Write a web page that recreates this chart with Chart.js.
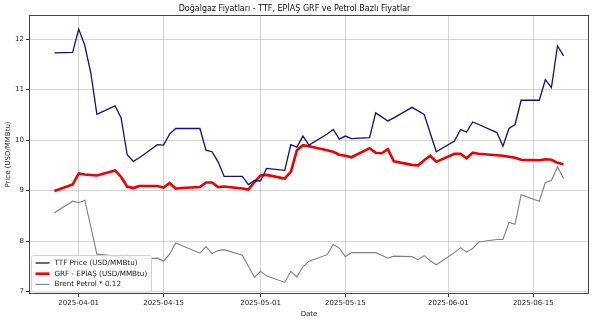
<!DOCTYPE html>
<html>
<head>
<meta charset="utf-8">
<script src="https://cdn.jsdelivr.net/npm/chart.js@4.4.1/dist/chart.umd.min.js"></script>
<style>
  html, body { margin: 0; padding: 0; background: #fff; }
  #wrap { width: 594px; height: 322px; }
</style>
</head>
<body>
<div id="wrap"><canvas id="gasChart" width="594" height="322"></canvas></div>
<script>
// business days shown in the chart
const dates = [
  "2025-03-28", "2025-03-31", "2025-04-01", "2025-04-02", "2025-04-03", "2025-04-04",
  "2025-04-07", "2025-04-08", "2025-04-09", "2025-04-10", "2025-04-11",
  "2025-04-14", "2025-04-15", "2025-04-16", "2025-04-17", "2025-04-18",
  "2025-04-21", "2025-04-22", "2025-04-23", "2025-04-24", "2025-04-25",
  "2025-04-28", "2025-04-29", "2025-04-30", "2025-05-01", "2025-05-02",
  "2025-05-05", "2025-05-06", "2025-05-07", "2025-05-08", "2025-05-09",
  "2025-05-12", "2025-05-13", "2025-05-14", "2025-05-15", "2025-05-16",
  "2025-05-19", "2025-05-20", "2025-05-21", "2025-05-22", "2025-05-23",
  "2025-05-26", "2025-05-27", "2025-05-28", "2025-05-29", "2025-05-30",
  "2025-06-02", "2025-06-03", "2025-06-04", "2025-06-05", "2025-06-06",
  "2025-06-09", "2025-06-10", "2025-06-11", "2025-06-12", "2025-06-13",
  "2025-06-16", "2025-06-17", "2025-06-18", "2025-06-19", "2025-06-20"
];

const ttfPrice = [
  11.73, 11.74, 12.20, 11.88, 11.33, 10.51,
  10.68, 10.44, 9.71, 9.58, 9.65,
  9.91, 9.90, 10.12, 10.23, 10.23,
  10.23, 9.80, 9.77, 9.57, 9.28,
  9.28, 9.12, 9.20, 9.19, 9.44,
  9.40, 9.91, 9.86, 10.08, 9.90,
  10.12, 10.21, 10.02, 10.08, 10.03,
  10.05, 10.54, 10.46, 10.38, 10.44,
  10.65, 10.58, 10.51, 10.14, 9.77,
  9.98, 10.21, 10.16, 10.36, 10.31,
  10.15, 9.88, 10.23, 10.31, 10.79,
  10.79, 11.20, 11.04, 11.87, 11.67
];

const grfPrice = [
  8.99, 9.12, 9.34, 9.32, 9.31, 9.30,
  9.40, 9.27, 9.08, 9.05, 9.09,
  9.09, 9.06, 9.15, 9.04, 9.05,
  9.07, 9.16, 9.16, 9.07, 9.08,
  9.04, 9.02, 9.17, 9.30, 9.31,
  9.24, 9.37, 9.80, 9.90, 9.88,
  9.80, 9.77, 9.71, 9.69, 9.66,
  9.84, 9.75, 9.74, 9.82, 9.58,
  9.51, 9.50, 9.60, 9.69, 9.57,
  9.73, 9.73, 9.64, 9.75, 9.73,
  9.70, 9.69, 9.67, 9.65, 9.61,
  9.60, 9.62, 9.61, 9.55, 9.52
];

const brentScaled = [
  8.56, 8.79, 8.76, 8.81, 8.28, 7.74,
  7.70, 7.66, 7.72, 7.64, 7.64,
  7.66, 7.60, 7.74, 7.96, 7.91,
  7.76, 7.89, 7.75, 7.81, 7.83,
  7.72, 7.50, 7.28, 7.40, 7.31,
  7.18, 7.40, 7.29, 7.49, 7.60,
  7.73, 7.93, 7.86, 7.69, 7.77,
  7.77, 7.77, 7.72, 7.66, 7.70,
  7.69, 7.63, 7.71, 7.61, 7.53,
  7.77, 7.87, 7.78, 7.85, 7.98,
  8.03, 8.03, 8.37, 8.33, 8.92,
  8.79, 9.16, 9.20, 9.47, 9.24
];

const xTickDates = ["2025-04-01", "2025-04-15", "2025-05-01", "2025-05-15", "2025-06-01", "2025-06-15"];
const yTicks = [7, 8, 9, 10, 11, 12];

// days since 2025-04-01, used as x positions on a linear axis
const origin = Date.parse("2025-04-01");
function dayNum(s) {
  return Math.round((Date.parse(s) - origin) / 86400000);
}
function toPoints(values) {
  return values.map((v, i) => ({ x: dayNum(dates[i]), y: v }));
}

const font = "'DejaVu Sans', sans-serif";

// matplotlib style frame and legend inside the plot
const frameAndLegend = {
  id: "frameAndLegend",
  afterDraw(chart) {
    const ctx = chart.ctx;
    const ca = chart.chartArea;
    ctx.save();
    ctx.strokeStyle = "#444";
    ctx.lineWidth = 1;
    ctx.strokeRect(ca.left + 0.5, ca.top + 0.5, ca.right - ca.left - 1, ca.bottom - ca.top - 1);

    const bx = ca.left + 2.5, by = ca.bottom - 38.5, bw = 120, bh = 36.5;
    ctx.beginPath();
    ctx.roundRect(bx, by, bw, bh, 2);
    ctx.fillStyle = "rgba(255,255,255,0.8)";
    ctx.fill();
    ctx.strokeStyle = "#d0d0d0";
    ctx.stroke();

    ctx.font = "7.2px " + font;
    ctx.textBaseline = "middle";
    chart.data.datasets.forEach((ds, i) => {
      const y = by + 7.5 + i * 10.7;
      ctx.beginPath();
      ctx.moveTo(bx + 4, y);
      ctx.lineTo(bx + 18, y);
      ctx.strokeStyle = ds.borderColor;
      ctx.lineWidth = ds.borderWidth;
      ctx.stroke();
      ctx.fillStyle = "#222";
      ctx.fillText(ds.label, bx + 23, y);
    });
    ctx.restore();
  }
};

new Chart(document.getElementById("gasChart"), {
  type: "line",
  data: {
    datasets: [
      { label: "TTF Price (USD/MMBtu)", data: toPoints(ttfPrice), borderColor: "#10107e", borderWidth: 1.3 },
      { label: "GRF - EPİAŞ (USD/MMBtu)", data: toPoints(grfPrice), borderColor: "#ee0000", borderWidth: 2.6 },
      { label: "Brent Petrol * 0.12", data: toPoints(brentScaled), borderColor: "#808080", borderWidth: 1.1 }
    ]
  },
  options: {
    responsive: false,
    animation: false,
    layout: { padding: { left: 0, right: 5, top: 0, bottom: 0 } },
    elements: { point: { radius: 0 }, line: { tension: 0 } },
    plugins: {
      legend: { display: false },
      tooltip: { enabled: false },
      title: {
        display: true,
        text: "Doğalgaz Fiyatları - TTF, EPİAŞ GRF ve Petrol Bazlı Fiyatlar",
        color: "#111",
        font: { family: font, size: 8, weight: "normal", lineHeight: 1.2 },
        padding: { top: 4.5, bottom: 0.9 }
      }
    },
    scales: {
      x: {
        type: "linear",
        min: -8.2,
        max: 84.2,
        afterBuildTicks(scale) {
          scale.ticks = xTickDates.map(d => ({ value: dayNum(d) }));
        },
        afterFit(scale) { scale.height = 28; },
        ticks: {
          color: "#222",
          font: { family: font, size: 7 },
          padding: 2,
          maxRotation: 0,
          callback(value) {
            const hit = xTickDates.find(d => dayNum(d) === value);
            return hit || "";
          }
        },
        grid: { color: "rgba(176,176,176,0.55)", tickColor: "#333", tickLength: 3 },
        border: { display: false },
        title: {
          display: true,
          text: "Date",
          color: "#222",
          font: { family: font, size: 7 },
          padding: { top: 0, bottom: 3.8 }
        }
      },
      y: {
        min: 6.95,
        max: 12.48,
        afterBuildTicks(scale) {
          scale.ticks = yTicks.map(v => ({ value: v }));
        },
        afterFit(scale) { scale.width = 29; },
        ticks: {
          color: "#222",
          font: { family: font, size: 7 },
          padding: 2
        },
        grid: { color: "rgba(176,176,176,0.55)", tickColor: "#333", tickLength: 3 },
        border: { display: false },
        title: {
          display: true,
          text: "Price (USD/MMBtu)",
          color: "#222",
          font: { family: font, size: 7 },
          padding: { top: 4, bottom: 0 }
        }
      }
    }
  },
  plugins: [frameAndLegend]
});
</script>
</body>
</html>
